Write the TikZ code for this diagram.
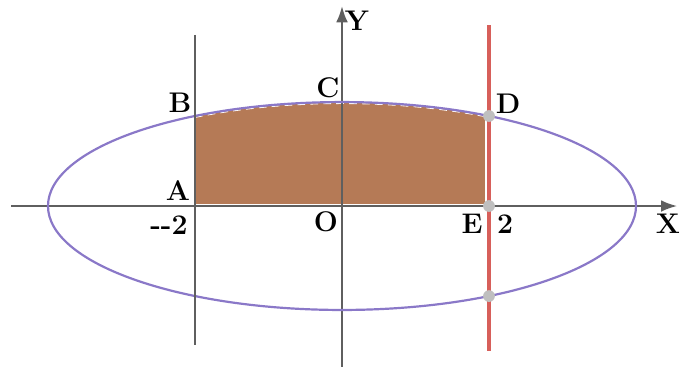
\documentclass[tikz,border=0pt]{standalone}
\usepackage{amsmath, amssymb}
\usepackage{tikz}
\usetikzlibrary{arrows.meta,calc}
\definecolor{areabrown}{RGB}{181,122,86}
\definecolor{ellpurple}{RGB}{138,120,200}
\definecolor{linered}{RGB}{215,95,90}
\definecolor{axisgray}{RGB}{95,95,95}
\tikzset{
  axisline/.style={-{Latex[length=2.2mm, width=1.6mm]}, line width=0.8pt, axisgray},
  ellcurve/.style={line width=0.85pt, ellpurple},
  boundline/.style={line width=0.8pt, axisgray},
  redbound/.style={line width=1.3pt, linered},
  areafill/.style={fill=areabrown},
  ptdot/.style={circle, fill=gray!50, inner sep=0pt, minimum size=1.6mm},
  ptlabel/.style={font=\fontsize{11}{13}\selectfont\bfseries, inner sep=0pt}
}
\begin{document}
\begin{tikzpicture}[x=1cm, y=1cm]
  \useasboundingbox (-4.653,-2.190) rectangle (4.653,2.803);
  % shaded part under the curve
  \fill[areafill] (-2,0) -- plot[domain=-2:2, samples=60] (\x, {sqrt(2)*sqrt(1-\x*\x/16)}) -- (2,0) -- cycle;
  \draw[white, line width=0.35pt, dash pattern=on 3pt off 2pt] plot[domain=-2:2, samples=60] (\x, {sqrt(2)*sqrt(1-\x*\x/16)-0.02});
  \draw[white, line width=0.6pt] (-2,0.02) -- (1.96,0.02) -- (1.96,1.2);
  % axes
  \coordinate (xs) at (-4.50,0);
  \coordinate (xe) at (4.56,0);
  \coordinate (ys) at (0,-2.19);
  \coordinate (ye) at (0,2.72);
  \draw[axisline] (xs) -- (xe);
  \draw[axisline] (ys) -- (ye);
  % ellipse x^2/16 + y^2/2 = 1
  \draw[ellcurve] (0,0) ellipse [x radius=4, y radius={sqrt(2)}];
  % the two vertical lines
  \coordinate (lt) at (-2,2.33);
  \coordinate (lb) at (-2,-1.89);
  \coordinate (rt) at (2,2.46);
  \coordinate (rb) at (2,-1.97);
  \draw[boundline] (lt) -- (lb);
  \draw[redbound] (rt) -- (rb);
  \node[ptdot] (dD) at (2,{sqrt(2)*sqrt(0.75)}) {};
  \node[ptdot] (dE) at (2,0) {};
  \node[ptdot] (dF) at (2,{-sqrt(2)*sqrt(0.75)}) {};
  % labels
  \node[ptlabel] (lY) at (0.204,2.517) {Y};
  \node[ptlabel] (lX) at (4.435,-0.245) {X};
  \node[ptlabel] (lB) at (-2.204,1.401) {B};
  \node[ptlabel] (lC) at (-0.190,1.605) {C};
  \node[ptlabel] (lD) at (2.259,1.388) {D};
  \node[ptlabel] (lA) at (-2.231,0.204) {A};
  \node[ptlabel] (lO) at (-0.218,-0.218) {O};
  \node[ptlabel] (lE) at (1.769,-0.245) {E};
  \node[ptlabel] (l2) at (2.218,-0.245) {2};
  \node[ptlabel] (lm2) at (-2.354,-0.259) {-{}-2};
\end{tikzpicture}
\end{document}
